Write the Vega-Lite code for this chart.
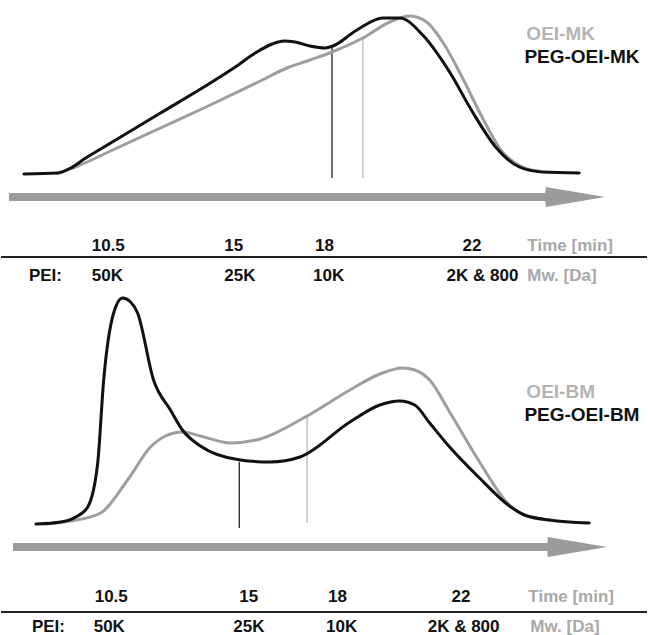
{
  "$schema": "https://vega.github.io/schema/vega-lite/v6.json",
  "width": 648,
  "height": 635,
  "autosize": {"type": "fit", "contains": "padding"},
  "padding": 0,
  "background": "white",
  "config": {"view": {"stroke": null}},
  "datasets": {
    "curves": [
      {"sample": "OEI-MK", "t": 57, "s": 173}, {"sample": "OEI-MK", "t": 77, "s": 166}, {"sample": "OEI-MK", "t": 110, "s": 151}, {"sample": "OEI-MK", "t": 160, "s": 128}, {"sample": "OEI-MK", "t": 210, "s": 105}, {"sample": "OEI-MK", "t": 260, "s": 81}, {"sample": "OEI-MK", "t": 287, "s": 68}, {"sample": "OEI-MK", "t": 310, "s": 60}, {"sample": "OEI-MK", "t": 332, "s": 52}, {"sample": "OEI-MK", "t": 363, "s": 38}, {"sample": "OEI-MK", "t": 390, "s": 22}, {"sample": "OEI-MK", "t": 410, "s": 16}, {"sample": "OEI-MK", "t": 427, "s": 22}, {"sample": "OEI-MK", "t": 443, "s": 42}, {"sample": "OEI-MK", "t": 463, "s": 78}, {"sample": "OEI-MK", "t": 483, "s": 118}, {"sample": "OEI-MK", "t": 503, "s": 152}, {"sample": "OEI-MK", "t": 523, "s": 167}, {"sample": "OEI-MK", "t": 540, "s": 171},
      {"sample": "OEI-BM", "t": 45, "s": 524}, {"sample": "OEI-BM", "t": 70, "s": 521}, {"sample": "OEI-BM", "t": 100, "s": 513}, {"sample": "OEI-BM", "t": 127, "s": 480}, {"sample": "OEI-BM", "t": 150, "s": 447}, {"sample": "OEI-BM", "t": 165, "s": 436}, {"sample": "OEI-BM", "t": 182, "s": 432}, {"sample": "OEI-BM", "t": 200, "s": 436}, {"sample": "OEI-BM", "t": 230, "s": 443}, {"sample": "OEI-BM", "t": 260, "s": 439}, {"sample": "OEI-BM", "t": 307, "s": 416}, {"sample": "OEI-BM", "t": 350, "s": 390}, {"sample": "OEI-BM", "t": 380, "s": 374}, {"sample": "OEI-BM", "t": 403, "s": 368}, {"sample": "OEI-BM", "t": 415, "s": 370}, {"sample": "OEI-BM", "t": 430, "s": 380}, {"sample": "OEI-BM", "t": 450, "s": 412}, {"sample": "OEI-BM", "t": 480, "s": 462}, {"sample": "OEI-BM", "t": 510, "s": 505}, {"sample": "OEI-BM", "t": 525, "s": 515}, {"sample": "OEI-BM", "t": 550, "s": 520},
      {"sample": "PEG-OEI-MK", "t": 23, "s": 174}, {"sample": "PEG-OEI-MK", "t": 57, "s": 173}, {"sample": "PEG-OEI-MK", "t": 70, "s": 168}, {"sample": "PEG-OEI-MK", "t": 85, "s": 158}, {"sample": "PEG-OEI-MK", "t": 110, "s": 143}, {"sample": "PEG-OEI-MK", "t": 160, "s": 113}, {"sample": "PEG-OEI-MK", "t": 210, "s": 83}, {"sample": "PEG-OEI-MK", "t": 235, "s": 67}, {"sample": "PEG-OEI-MK", "t": 255, "s": 53}, {"sample": "PEG-OEI-MK", "t": 272, "s": 44}, {"sample": "PEG-OEI-MK", "t": 284, "s": 41}, {"sample": "PEG-OEI-MK", "t": 295, "s": 42}, {"sample": "PEG-OEI-MK", "t": 310, "s": 46}, {"sample": "PEG-OEI-MK", "t": 325, "s": 48}, {"sample": "PEG-OEI-MK", "t": 333, "s": 46}, {"sample": "PEG-OEI-MK", "t": 357, "s": 30}, {"sample": "PEG-OEI-MK", "t": 383, "s": 18}, {"sample": "PEG-OEI-MK", "t": 400, "s": 18}, {"sample": "PEG-OEI-MK", "t": 423, "s": 35}, {"sample": "PEG-OEI-MK", "t": 450, "s": 72}, {"sample": "PEG-OEI-MK", "t": 473, "s": 112}, {"sample": "PEG-OEI-MK", "t": 497, "s": 148}, {"sample": "PEG-OEI-MK", "t": 520, "s": 167}, {"sample": "PEG-OEI-MK", "t": 543, "s": 172}, {"sample": "PEG-OEI-MK", "t": 580, "s": 173},
      {"sample": "PEG-OEI-BM", "t": 35, "s": 524}, {"sample": "PEG-OEI-BM", "t": 60, "s": 522}, {"sample": "PEG-OEI-BM", "t": 75, "s": 517}, {"sample": "PEG-OEI-BM", "t": 87, "s": 507}, {"sample": "PEG-OEI-BM", "t": 97, "s": 463}, {"sample": "PEG-OEI-BM", "t": 103, "s": 380}, {"sample": "PEG-OEI-BM", "t": 113, "s": 313}, {"sample": "PEG-OEI-BM", "t": 122, "s": 298}, {"sample": "PEG-OEI-BM", "t": 130, "s": 302}, {"sample": "PEG-OEI-BM", "t": 137, "s": 313}, {"sample": "PEG-OEI-BM", "t": 153, "s": 380}, {"sample": "PEG-OEI-BM", "t": 170, "s": 410}, {"sample": "PEG-OEI-BM", "t": 182, "s": 430}, {"sample": "PEG-OEI-BM", "t": 200, "s": 446}, {"sample": "PEG-OEI-BM", "t": 240, "s": 460}, {"sample": "PEG-OEI-BM", "t": 270, "s": 462}, {"sample": "PEG-OEI-BM", "t": 300, "s": 457}, {"sample": "PEG-OEI-BM", "t": 350, "s": 422}, {"sample": "PEG-OEI-BM", "t": 380, "s": 405}, {"sample": "PEG-OEI-BM", "t": 400, "s": 401}, {"sample": "PEG-OEI-BM", "t": 415, "s": 405}, {"sample": "PEG-OEI-BM", "t": 430, "s": 423}, {"sample": "PEG-OEI-BM", "t": 450, "s": 447}, {"sample": "PEG-OEI-BM", "t": 480, "s": 478}, {"sample": "PEG-OEI-BM", "t": 510, "s": 506}, {"sample": "PEG-OEI-BM", "t": 525, "s": 515}, {"sample": "PEG-OEI-BM", "t": 550, "s": 520}, {"sample": "PEG-OEI-BM", "t": 590, "s": 523}
    ],
    "markers": [
      {"sample": "PEG-OEI-MK", "t": 332, "s": 46, "s2": 178},
      {"sample": "OEI-MK", "t": 363, "s": 38, "s2": 178},
      {"sample": "PEG-OEI-BM", "t": 239, "s": 462, "s2": 528},
      {"sample": "OEI-BM", "t": 307, "s": 416, "s2": 523}
    ],
    "arrows": [
      {"panel": "MK", "t": 8, "lo": 193, "hi": 201},
      {"panel": "MK", "t": 546, "lo": 193, "hi": 201},
      {"panel": "MK", "t": 546.5, "lo": 187, "hi": 207},
      {"panel": "MK", "t": 606, "lo": 197, "hi": 197},
      {"panel": "BM", "t": 12, "lo": 543, "hi": 551},
      {"panel": "BM", "t": 548, "lo": 543, "hi": 551},
      {"panel": "BM", "t": 548.5, "lo": 537, "hi": 557},
      {"panel": "BM", "t": 608, "lo": 547, "hi": 547}
    ],
    "dividers": [
      {"panel": "MK", "t": 0, "t2": 648, "s": 257},
      {"panel": "BM", "t": 0, "t2": 648, "s": 612}
    ],
    "labels": [
      {"key": "value", "text": "10.5", "t": 91, "s": 246},
      {"key": "value", "text": "15", "t": 224, "s": 246},
      {"key": "value", "text": "18", "t": 315, "s": 246},
      {"key": "value", "text": "22", "t": 463, "s": 246},
      {"key": "unit", "text": "Time [min]", "t": 528, "s": 246},
      {"key": "value", "text": "PEI:", "t": 28, "s": 276},
      {"key": "value", "text": "50K", "t": 91, "s": 276},
      {"key": "value", "text": "25K", "t": 224, "s": 276},
      {"key": "value", "text": "10K", "t": 313, "s": 276},
      {"key": "value", "text": "2K & 800", "t": 447, "s": 276},
      {"key": "unit", "text": "Mw. [Da]", "t": 528, "s": 276},
      {"key": "value", "text": "10.5", "t": 94, "s": 597},
      {"key": "value", "text": "15", "t": 239, "s": 597},
      {"key": "value", "text": "18", "t": 328, "s": 597},
      {"key": "value", "text": "22", "t": 452, "s": 597},
      {"key": "unit", "text": "Time [min]", "t": 529, "s": 597},
      {"key": "value", "text": "PEI:", "t": 31, "s": 627},
      {"key": "value", "text": "50K", "t": 93, "s": 627},
      {"key": "value", "text": "25K", "t": 233, "s": 627},
      {"key": "value", "text": "10K", "t": 326, "s": 627},
      {"key": "value", "text": "2K & 800", "t": 428, "s": 627},
      {"key": "unit", "text": "Mw. [Da]", "t": 531, "s": 627}
    ],
    "legend": [
      {"key": "OEI-MK", "t": 527, "s": 34},
      {"key": "PEG-OEI-MK", "t": 525, "s": 57},
      {"key": "OEI-BM", "t": 527, "s": 392},
      {"key": "PEG-OEI-BM", "t": 525, "s": 415}
    ]
  },
  "layer": [
    {
      "data": {"name": "arrows"},
      "mark": {"type": "area", "color": "#9b9b9b", "interpolate": "linear"},
      "encoding": {
        "x": {"field": "t", "type": "quantitative", "scale": {"domain": [0, 648], "nice": false, "zero": false}, "axis": null},
        "y": {"field": "lo", "type": "quantitative", "scale": {"domain": [0, 635], "reverse": true, "nice": false, "zero": false}, "axis": null},
        "y2": {"field": "hi"},
        "detail": {"field": "panel"}
      }
    },
    {
      "data": {"name": "markers"},
      "mark": {"type": "rule", "strokeWidth": 1.2},
      "encoding": {
        "x": {"field": "t", "type": "quantitative"},
        "y": {"field": "s", "type": "quantitative"},
        "y2": {"field": "s2"},
        "color": {"field": "sample", "type": "nominal", "scale": {"domain": ["OEI-MK", "PEG-OEI-MK", "OEI-BM", "PEG-OEI-BM", "value", "unit"], "range": ["#b4b4b4", "#111111", "#b4b4b4", "#111111", "#111111", "#a8a8a8"]}, "legend": null}
      }
    },
    {
      "data": {"name": "curves"},
      "mark": {"type": "line", "interpolate": "monotone", "strokeWidth": 3, "strokeCap": "round"},
      "encoding": {
        "x": {"field": "t", "type": "quantitative"},
        "y": {"field": "s", "type": "quantitative"},
        "detail": {"field": "sample", "type": "nominal"},
        "stroke": {"field": "sample", "type": "nominal", "scale": {"domain": ["OEI-MK", "PEG-OEI-MK", "OEI-BM", "PEG-OEI-BM"], "range": ["#9e9e9e", "#111111", "#9e9e9e", "#111111"]}, "legend": null}
      }
    },
    {
      "data": {"name": "dividers"},
      "mark": {"type": "rule", "color": "#222222", "strokeWidth": 2},
      "encoding": {
        "x": {"field": "t", "type": "quantitative"},
        "x2": {"field": "t2"},
        "y": {"field": "s", "type": "quantitative"}
      }
    },
    {
      "data": {"name": "labels"},
      "mark": {"type": "text", "align": "left", "baseline": "middle", "font": "Liberation Sans", "fontWeight": "bold", "fontSize": 17},
      "encoding": {
        "x": {"field": "t", "type": "quantitative"},
        "y": {"field": "s", "type": "quantitative"},
        "text": {"field": "text"},
        "color": {"field": "key", "type": "nominal", "legend": null}
      }
    },
    {
      "data": {"name": "legend"},
      "mark": {"type": "text", "align": "left", "baseline": "middle", "font": "Liberation Sans", "fontWeight": "bold", "fontSize": 19},
      "encoding": {
        "x": {"field": "t", "type": "quantitative"},
        "y": {"field": "s", "type": "quantitative"},
        "text": {"field": "key"},
        "color": {"field": "key", "type": "nominal", "legend": null}
      }
    }
  ]
}
